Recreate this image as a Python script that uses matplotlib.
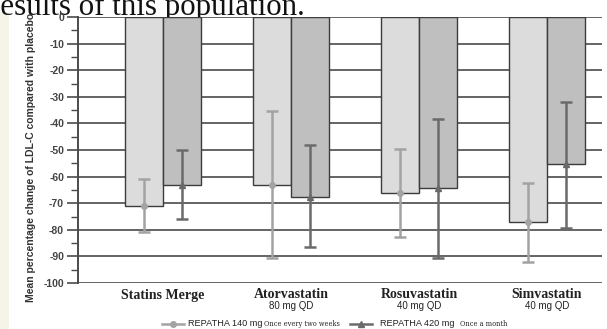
import matplotlib
matplotlib.use("Agg")
import matplotlib.pyplot as plt
from matplotlib.lines import Line2D
from matplotlib.patches import Rectangle
import numpy as np

categories = ["Statins Merge", "Atorvastatin", "Rosuvastatin", "Simvastatin"]
doses = ["", "80 mg QD", "40 mg QD", "40 mg QD"]

q2w_mean = [-71, -63, -66.3, -77.2]
q2w_hi = [-61, -35.5, -49.6, -62.5]
q2w_lo = [-81, -90.5, -82.8, -92]

qm_mean = [-63, -67.5, -64.4, -55.4]
qm_hi = [-50, -48, -38.3, -31.8]
qm_lo = [-76, -86.5, -90.5, -79.2]

legend_main = ["REPATHA 140 mg", "REPATHA 420 mg"]
legend_sub = ["Once every two weeks", "Once a month"]

y_ticks = list(range(0, -101, -10))

W, H = 607, 329
fig = plt.figure(figsize=(W / 100, H / 100), dpi=100)
fig.patch.set_facecolor("white")

# cream stripe on far left
fig.add_artist(Rectangle((0, 0), 9 / W, 1 - 12 / H, transform=fig.transFigure,
                         facecolor="#f6f4e8", edgecolor="none", zorder=-5))

# header text cropped at top
fig.text(-10 / W, 1 - 15 / H, "results of this population.", fontsize=22.3,
         family="Liberation Serif", color="#111111", ha="left", va="baseline",
         zorder=-3)

ax = fig.add_axes([78 / W, 1 - 283 / H, 524 / W, 266 / H])
ax.set_facecolor("white")
ax.set_zorder(1)

light_fc, dark_fc = "#dcdcdc", "#bfbfbf"
light_ec, dark_ec = "#a3a3a3", "#6a6a6a"
x = np.arange(len(categories))
bw = 0.30

ax.bar(x - bw / 2, q2w_mean, width=bw, color=light_fc, edgecolor="#3c3c3c",
       linewidth=1.0, zorder=2)
ax.bar(x + bw / 2, qm_mean, width=bw, color=dark_fc, edgecolor="#3c3c3c",
       linewidth=1.0, zorder=2)

q2w_err = [np.array(q2w_mean) - np.array(q2w_lo), np.array(q2w_hi) - np.array(q2w_mean)]
qm_err = [np.array(qm_mean) - np.array(qm_lo), np.array(qm_hi) - np.array(qm_mean)]
ax.errorbar(x - bw / 2, q2w_mean, yerr=q2w_err, fmt="o", color=light_ec,
            ecolor=light_ec, elinewidth=1.8, capsize=4.5, capthick=1.8,
            markersize=4, zorder=3)
ax.errorbar(x + bw / 2, qm_mean, yerr=qm_err, fmt="^", color=dark_ec,
            ecolor=dark_ec, elinewidth=1.8, capsize=4.5, capthick=1.8,
            markersize=4, zorder=3)

ax.set_xlim(-0.664, 3.43)
ax.set_ylim(-100, 0)
ax.set_yticks(y_ticks)
ax.set_yticks(np.arange(-95, 0, 10), minor=True)
ax.set_yticklabels([str(t) for t in y_ticks], family="Liberation Sans",
                   fontsize=7.5, fontweight="bold", color="#444444")
ax.yaxis.grid(True, which="major", color="#4a4a4a", linewidth=1.2, zorder=1)
ax.set_axisbelow(True)
ax.tick_params(axis="y", which="major", length=8, width=1.2, color="#4a4a4a", pad=2)
ax.tick_params(axis="y", which="minor", length=5, width=1.0, color="#4a4a4a")
ax.set_xticks([])
for s in ["top", "right", "bottom"]:
    ax.spines[s].set_visible(False)
ax.spines["left"].set_color("#4a4a4a")
ax.spines["left"].set_linewidth(1.4)

ax.set_ylabel("Mean percentage change of LDL-C compared with placebo",
              family="Liberation Sans", fontsize=7.5, fontweight="bold",
              color="#333333")
ax.yaxis.set_label_coords((36 - 78) / 524, (283 - 157) / 266)

trans = ax.get_xaxis_transform()
for i, (c, d) in enumerate(zip(categories, doses)):
    ax.text(x[i], -12 / 266, c, transform=trans, ha="center", va="center",
            family="Liberation Serif", fontsize=10, fontweight="bold",
            color="#222222", clip_on=False)
    if d:
        ax.text(x[i], -23 / 266, d, transform=trans, ha="center", va="center",
                family="Liberation Sans", fontsize=7, color="#222222",
                clip_on=False)

# legend
ly = 1 - 324 / H
items = [(162, 184, 188, 264, light_ec, "o"), (350, 372, 380, 460, dark_ec, "^")]
for (x0, x1, tx, sx, col, mk), main, sub in zip(items, legend_main, legend_sub):
    fig.add_artist(Line2D([x0 / W, x1 / W], [ly, ly], transform=fig.transFigure,
                          color=col, linewidth=1.8))
    fig.add_artist(Line2D([(x0 + x1) / 2 / W], [ly], transform=fig.transFigure,
                          color=col, marker=mk, markersize=4, linestyle="none"))
    fig.text(tx / W, ly, main, family="Liberation Sans", fontsize=6.6,
             color="#222222", ha="left", va="center")
    fig.text(sx / W, ly, sub, family="DejaVu Serif", fontsize=4.8, color="#222222",
             ha="left", va="center")

fig.savefig("out.png", dpi=100)
